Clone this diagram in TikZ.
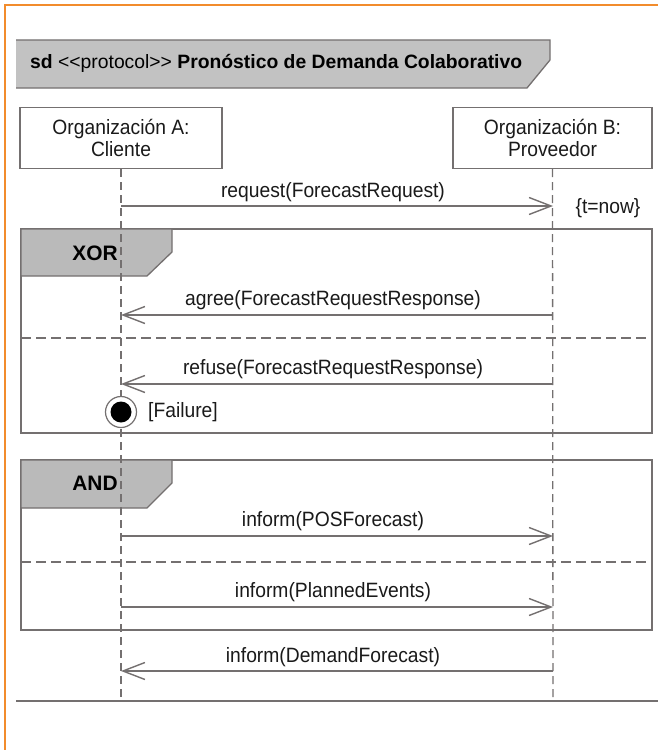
\documentclass[tikz,border=0pt]{standalone}
\usepackage{fontspec}
\newfontfamily\umlfont[FakeStretch=0.93]{Liberation Sans}
\newfontfamily\umltitlefont{Liberation Sans}
\usetikzlibrary{arrows.meta}
\definecolor{frameorange}{HTML}{F28C2C}
\definecolor{linegray}{HTML}{747070}
\definecolor{inkgray}{HTML}{1A1A1A}
\definecolor{bannergray}{HTML}{C2C2C2}
\definecolor{tabgray}{HTML}{BABABA}
\tikzset{
  txt/.style={font=\umlfont\fontsize{20.8}{22}\selectfont, text=inkgray, inner sep=0pt},
  lifebox/.style={draw=linegray, line width=1.3bp, fill=white, txt, align=center,
                  minimum width=202bp, minimum height=61bp},
  lifeline/.style={draw=linegray, line width=1.3bp, dash pattern=on 8bp off 5bp},
  msg/.style={draw=linegray, line width=1.4bp, -{Straight Barb[length=22bp,width=17bp,line width=1.4bp]}},
  fragline/.style={draw=linegray, line width=1.5bp},
  sepline/.style={draw=linegray, line width=1.4bp, dash pattern=on 10bp off 5bp},
  tab/.style={fill=tabgray, draw=linegray, line width=1.3bp},
  tabtxt/.style={font=\umltitlefont\bfseries\fontsize{21}{24}\selectfont, text=black, inner sep=0pt},
}
\begin{document}
\begin{tikzpicture}[x=1bp, y=-1bp]
\useasboundingbox (0,0) rectangle (658,750);
\fill[white] (0,0) rectangle (658,750);
% orange page corner
\draw[frameorange, line width=2.6bp] (5,750) -- (5,5) -- (658,5);

% diagram header banner
\fill[bannergray] (16,40) -- (550,40) -- (550,60) -- (527,88) -- (16,88) -- cycle;
\draw[linegray, line width=1.3bp] (16,40) -- (550,40) -- (550,60) -- (527,88) -- (16,88);
\node[inner sep=0pt, anchor=west, font=\umltitlefont\fontsize{19.4}{22}\selectfont, text=black] (title) at (30,63)
  {\textbf{sd} <\kern0pt<protocol>\kern0pt> \textbf{Pronóstico de Demanda Colaborativo}};

% lifeline heads
\node[lifebox] (orgA) at (121,138) {Organización A:\\Cliente};
\node[lifebox, minimum width=199bp] (orgB) at (552.5,138) {Organización B:\\Proveedor};

% lifeline end points
\coordinate (endA) at (121,701);
\coordinate (endB) at (553,701);

% combined fragment XOR
\draw[fragline] (21,229) rectangle (652,433);
\draw[tab] (21,229) -- (172,229) -- (172,252) -- (147,276) -- (21,276) -- cycle;
\node[tabtxt] (xor) at (95,253) {XOR};
\coordinate (xs1) at (21,338);
\coordinate (xs2) at (652,338);
\draw[sepline] (xs1) -- (xs2);

% combined fragment AND
\draw[fragline] (21,460) rectangle (652,630);
\draw[tab] (21,460) -- (172,460) -- (172,483) -- (147,508) -- (21,508) -- cycle;
\node[tabtxt] (and) at (95,483) {AND};
\coordinate (as1) at (21,562);
\coordinate (as2) at (652,562);
\draw[sepline] (as1) -- (as2);

% lifelines
\draw[lifeline] (orgA.south) -- (endA);
\draw[lifeline] (orgB.south) -- (endB);

% closing line
\coordinate (bl) at (16,701);
\coordinate (br) at (658,701);
\draw[linegray, line width=1.3bp] (bl) -- (br);

% message anchor points on the lifelines
\coordinate (a1) at (121,206); \coordinate (b1) at (553,206);
\coordinate (a2) at (121,315); \coordinate (b2) at (553,315);
\coordinate (a3) at (121,384); \coordinate (b3) at (553,384);
\coordinate (a4) at (121,536); \coordinate (b4) at (553,536);
\coordinate (a5) at (121,607); \coordinate (b5) at (553,607);
\coordinate (a6) at (121,671); \coordinate (b6) at (553,671);

% messages
\draw[msg] (a1) -- (b1);
\node[txt] (m1) at (333,192) {request(ForecastRequest)};
\node[txt] (tnow) at (608,208) {\{t=now\}};

\draw[msg] (b2) -- (a2);
\node[txt] (m2) at (333,300) {agree(ForecastRequestResponse)};

\draw[msg] (b3) -- (a3);
\node[txt] (m3) at (333,369) {refuse(ForecastRequestResponse)};

\draw[msg] (a4) -- (b4);
\node[txt] (m4) at (333,521) {inform(POSForecast)};

\draw[msg] (a5) -- (b5);
\node[txt] (m5) at (333,592) {inform(PlannedEvents)};

\draw[msg] (b6) -- (a6);
\node[txt] (m6) at (333,657) {inform(DemandForecast)};

% failure termination
\node[circle, draw=linegray, line width=1.2bp, fill=white, minimum size=31bp, inner sep=0pt] (fail) at (121,412) {};
\fill[black] (fail.center) circle (10.5bp);
\node[txt, anchor=west] (failtxt) at (148,412) {[Failure]};
\end{tikzpicture}
\end{document}
